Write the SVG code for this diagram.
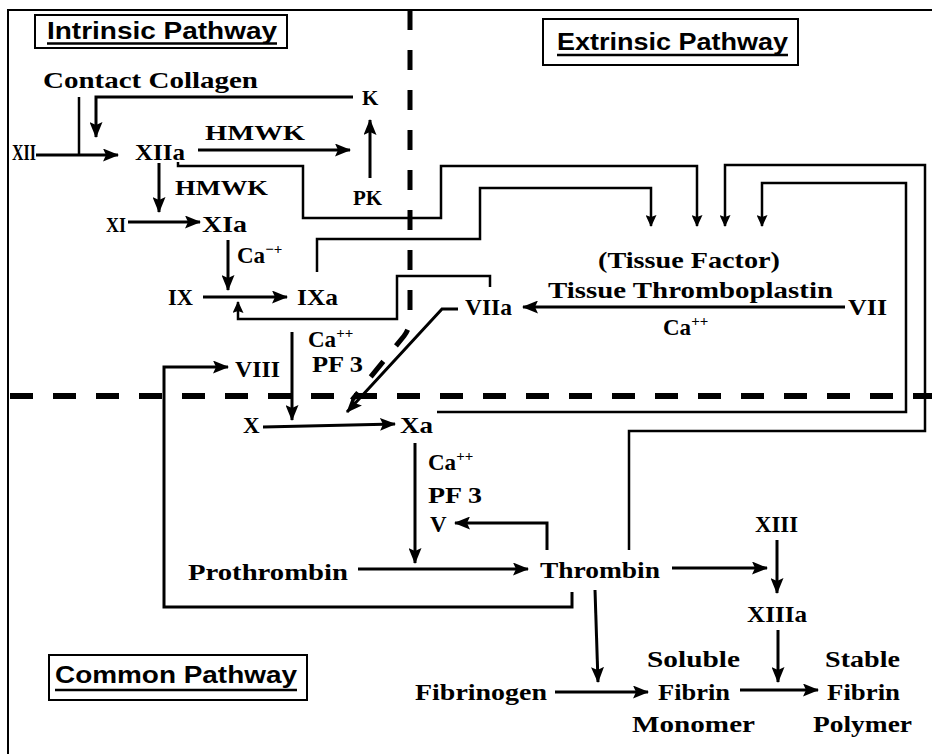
<svg xmlns="http://www.w3.org/2000/svg" width="932" height="754" viewBox="0 0 932 754">
<style>
.t{font-family:"Liberation Serif","DejaVu Serif",serif;font-size:23px;font-weight:bold;fill:#000}
.sm{font-size:21px}
.sup{font-size:15px}
.h{font-family:"Liberation Sans",Arial,sans-serif;font-weight:bold;font-size:23px;fill:#000}
.box{fill:#fff;stroke:#000;stroke-width:2}
.ul{stroke:#000;stroke-width:2.5}
.ln{fill:none;stroke:#000;stroke-width:3;marker-end:url(#ah)}
.rt{fill:none;stroke:#000;stroke-width:2.5}
.rta{fill:none;stroke:#000;stroke-width:2.5;marker-end:url(#as)}
.dash{fill:none;stroke:#000;stroke-width:5}
</style>
<defs>
<marker id="ah" markerWidth="16" markerHeight="13" refX="15" refY="6.5" orient="auto" markerUnits="userSpaceOnUse"><path d="M0,0 L16,6.5 L0,13 L3,6.5 z" fill="#000"/></marker>
<marker id="as" markerWidth="12" markerHeight="11" refX="11" refY="5.5" orient="auto" markerUnits="userSpaceOnUse"><path d="M0,0 L12,5.5 L0,11 L2,5.5 z" fill="#000"/></marker>
</defs>
<rect width="932" height="754" fill="#fff"/>
<g id="frame">
<path d="M932,10 H8 V754" fill="none" stroke="#000" stroke-width="2"/>
</g>
<g id="dividers">
<path class="dash" d="M410,10 V318 Q410,328 404,336 L352,400" stroke-dasharray="20 20"/>
<path d="M10,396 H932" fill="none" stroke="#000" stroke-width="6" stroke-dasharray="23 20"/>
</g>
<g id="headers">
<g id="intrinsic">
<rect class="box" x="35" y="15" width="252" height="33"/>
<text class="h" x="47" y="39" font-size="22" textLength="230" lengthAdjust="spacingAndGlyphs">Intrinsic Pathway</text>
<line class="ul" x1="47" y1="43.5" x2="277" y2="43.5"/>
</g>
<g id="extrinsic">
<rect class="box" x="543" y="19" width="255" height="46"/>
<text class="h" x="557" y="50" font-size="25" textLength="231" lengthAdjust="spacingAndGlyphs">Extrinsic Pathway</text>
<line class="ul" x1="557" y1="55" x2="788" y2="55"/>
</g>
<g id="common">
<rect class="box" x="49" y="655" width="258" height="45"/>
<text class="h" x="55" y="683" font-size="22" textLength="242" lengthAdjust="spacingAndGlyphs">Common Pathway</text>
<line class="ul" x1="55" y1="690" x2="297" y2="690"/>
</g>
</g>
<g id="connectors">
<path class="rt" d="M79,97 V155"/>
<path class="ln" d="M36,155 H118"/>
<path class="ln" d="M353,97 H96 V137"/>
<path class="ln" d="M198,150 H350"/>
<path class="ln" d="M370,178 V120"/>
<path class="ln" d="M159,163 V212"/>
<path class="ln" d="M128,222 H200"/>
<path class="ln" d="M228,240 V290"/>
<path class="ln" d="M203,297 H287"/>
<path class="rta" d="M178,162 V166 H303 V218 H441 V166 H697 V226"/>
<path class="rta" d="M317,272 V239 H480 V188 H651 V226"/>
<path class="rta" d="M490,287 V276 H397 V319 H238 V302"/>
<path class="ln" d="M292,332 V420"/>
<path class="ln" d="M572,592 V607 H164 V367 H228"/>
<path class="ln" d="M263,427 L395,424"/>
<path class="ln" d="M458,309 H442 L347,412"/>
<path class="ln" d="M845,307 H523"/>
<path class="rta" d="M437,412 H906 V183 H762 V226"/>
<path class="rta" d="M629,550 V431 H925 V165 H725 V226"/>
<path class="ln" d="M415,443 V563"/>
<path class="ln" d="M547,550 V523 H455"/>
<path class="ln" d="M358,569 H528"/>
<path class="ln" d="M672,568 H767"/>
<path class="ln" d="M777,540 V593"/>
<path class="ln" d="M778,630 V682"/>
<path class="ln" d="M595,590 L598,682"/>
<path class="ln" d="M555,692 H648"/>
<path class="ln" d="M740,690 H818"/>
</g>
<g id="contact-collagen"><text class="t" x="43" y="88" textLength="215" lengthAdjust="spacingAndGlyphs">Contact Collagen</text></g>
<g id="K"><text class="t sm" x="362" y="105">K</text></g>
<g id="XII"><text class="t" x="12" y="160" font-size="20" textLength="24" lengthAdjust="spacingAndGlyphs">XII</text></g>
<g id="XIIa"><text class="t" x="135" y="160" textLength="50" lengthAdjust="spacingAndGlyphs">XIIa</text></g>
<g id="HMWK1"><text class="t sm" x="205" y="140" textLength="100" lengthAdjust="spacingAndGlyphs">HMWK</text></g>
<g id="HMWK2"><text class="t sm" x="175" y="195" textLength="93" lengthAdjust="spacingAndGlyphs">HMWK</text></g>
<g id="PK"><text class="t sm" x="353" y="205">PK</text></g>
<g id="XI"><text class="t sm" x="106" y="232" textLength="20" lengthAdjust="spacingAndGlyphs">XI</text></g>
<g id="XIa"><text class="t" x="202" y="232" textLength="45" lengthAdjust="spacingAndGlyphs">XIa</text></g>
<g id="Ca-IX"><text class="t" x="237" y="263">Ca<tspan class="sup" dy="-9">−+</tspan></text></g>
<g id="IX"><text class="t" x="168" y="305" textLength="25" lengthAdjust="spacingAndGlyphs">IX</text></g>
<g id="IXa"><text class="t" x="297" y="305" textLength="41" lengthAdjust="spacingAndGlyphs">IXa</text></g>
<g id="Ca-X"><text class="t" x="308" y="347">Ca<tspan class="sup" dy="-9">++</tspan></text></g>
<g id="PF3-X"><text class="t" x="312" y="372" textLength="51" lengthAdjust="spacingAndGlyphs">PF 3</text></g>
<g id="VIII"><text class="t" x="235" y="377" textLength="45" lengthAdjust="spacingAndGlyphs">VIII</text></g>
<g id="X"><text class="t" x="243" y="433">X</text></g>
<g id="Xa"><text class="t" x="400" y="433" textLength="33" lengthAdjust="spacingAndGlyphs">Xa</text></g>
<g id="VIIa"><text class="t" x="465" y="315" textLength="47" lengthAdjust="spacingAndGlyphs">VIIa</text></g>
<g id="VII"><text class="t" x="848" y="315" textLength="39" lengthAdjust="spacingAndGlyphs">VII</text></g>
<g id="tissue-factor"><text class="t" x="598" y="268" textLength="182" lengthAdjust="spacingAndGlyphs">(Tissue Factor)</text>
<text class="t" x="548" y="298" textLength="285" lengthAdjust="spacingAndGlyphs">Tissue Thromboplastin</text></g>
<g id="Ca-VII"><text class="t" x="663" y="335">Ca<tspan class="sup" dy="-9">++</tspan></text></g>
<g id="Ca-Xa"><text class="t" x="428" y="470">Ca<tspan class="sup" dy="-9">++</tspan></text></g>
<g id="PF3-Xa"><text class="t" x="428" y="503" textLength="54" lengthAdjust="spacingAndGlyphs">PF 3</text></g>
<g id="V"><text class="t" x="430" y="532">V</text></g>
<g id="prothrombin"><text class="t" x="188" y="580" textLength="160" lengthAdjust="spacingAndGlyphs">Prothrombin</text></g>
<g id="thrombin"><text class="t" x="540" y="578" textLength="120" lengthAdjust="spacingAndGlyphs">Thrombin</text></g>
<g id="XIII"><text class="t" x="755" y="532" textLength="43" lengthAdjust="spacingAndGlyphs">XIII</text></g>
<g id="XIIIa"><text class="t" x="747" y="622" textLength="60" lengthAdjust="spacingAndGlyphs">XIIIa</text></g>
<g id="fibrinogen"><text class="t" x="415" y="700" textLength="132" lengthAdjust="spacingAndGlyphs">Fibrinogen</text></g>
<g id="soluble-fibrin"><text class="t" x="647" y="667" textLength="93" lengthAdjust="spacingAndGlyphs">Soluble</text>
<text class="t" x="658" y="700" textLength="72" lengthAdjust="spacingAndGlyphs">Fibrin</text>
<text class="t" x="632" y="732" textLength="123" lengthAdjust="spacingAndGlyphs">Monomer</text></g>
<g id="stable-fibrin"><text class="t" x="825" y="667" textLength="75" lengthAdjust="spacingAndGlyphs">Stable</text>
<text class="t" x="827" y="700" textLength="73" lengthAdjust="spacingAndGlyphs">Fibrin</text>
<text class="t" x="813" y="732" textLength="99" lengthAdjust="spacingAndGlyphs">Polymer</text></g>
</svg>
